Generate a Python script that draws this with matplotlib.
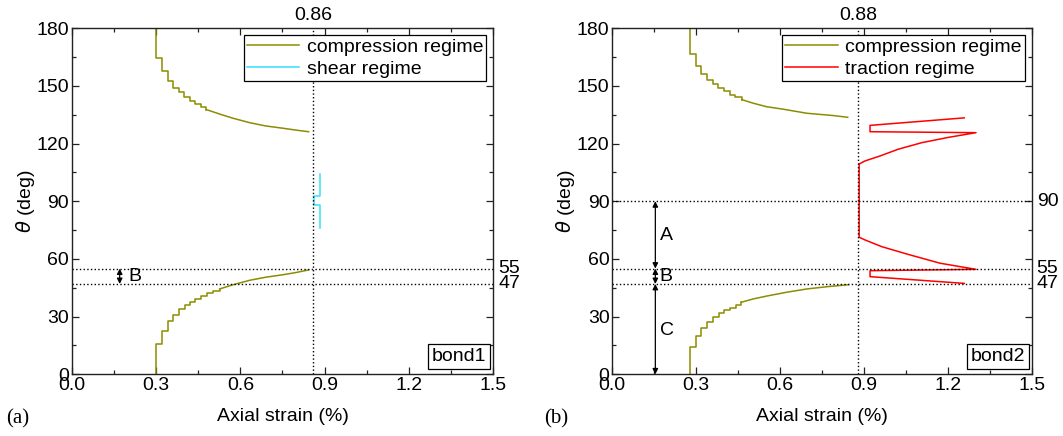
import numpy as np
import matplotlib
matplotlib.use("Agg")
import matplotlib.pyplot as plt
import matplotlib.transforms as mtransforms
from matplotlib.ticker import MultipleLocator, FormatStrFormatter

plt.rcParams['font.family'] = ['Liberation Sans', 'DejaVu Sans']
plt.rcParams['mathtext.fontset'] = 'dejavusans'

olive = '#8c8c00'
cyan = '#33e0ff'
red = '#ff0000'
fs = 14

# bond1: compression regime (strain %, theta deg); stepped start + smooth tail
b1_up_step_x = [0.301, 0.301, 0.320, 0.341, 0.360, 0.380, 0.399, 0.419, 0.440, 0.460, 0.479]
b1_up_step_t = [180.0, 164.4, 157.8, 152.8, 149.1, 146.7, 144.1, 142.2, 140.6, 138.9, 137.7]
b1_up_tail_x = [0.479, 0.530, 0.574, 0.633, 0.690, 0.752, 0.800, 0.843]
b1_up_tail_t = [137.7, 135.2, 133.2, 130.9, 129.2, 128.0, 127.0, 126.2]
b1_lo_step_x = [0.301, 0.301, 0.320, 0.341, 0.360, 0.381, 0.401, 0.420, 0.440, 0.461,
                0.481, 0.503, 0.526]
b1_lo_step_t = [0.0, 15.9, 22.5, 27.6, 31.0, 33.8, 36.1, 37.8, 39.3, 40.7,
                42.1, 43.2, 44.4]
b1_lo_tail_x = [0.526, 0.574, 0.633, 0.690, 0.752, 0.800, 0.843]
b1_lo_tail_t = [44.4, 46.6, 48.9, 50.5, 51.8, 53.0, 54.3]
# bond1: shear regime
b1_sh_x = [0.882, 0.882, 0.864, 0.864, 0.882, 0.882]
b1_sh_t = [104.0, 93.0, 93.0, 88.0, 88.0, 76.0]

# bond2: compression regime
b2_up_step_x = [0.278, 0.278, 0.299, 0.318, 0.340, 0.359, 0.379, 0.400, 0.421, 0.440, 0.463]
b2_up_step_t = [180.0, 166.5, 160.4, 156.2, 153.1, 150.9, 148.8, 147.2, 145.5, 144.1, 142.9]
b2_up_tail_x = [0.463, 0.505, 0.552, 0.612, 0.696, 0.791, 0.842]
b2_up_tail_t = [142.9, 141.0, 139.2, 137.9, 135.8, 134.6, 133.7]
b2_lo_step_x = [0.278, 0.278, 0.299, 0.319, 0.339, 0.361, 0.380, 0.400, 0.421, 0.441, 0.462]
b2_lo_step_t = [0.0, 14.0, 19.9, 24.1, 27.2, 29.7, 31.7, 33.3, 34.7, 36.2, 37.5]
b2_lo_tail_x = [0.462, 0.504, 0.552, 0.624, 0.696, 0.770, 0.845]
b2_lo_tail_t = [37.5, 39.2, 40.7, 42.7, 44.4, 45.6, 46.6]
# bond2: traction regime
b2_tr_x = [1.259, 0.922, 0.922, 1.301, 1.200, 1.107, 1.023, 0.958, 0.904, 0.883, 0.883,
           0.904, 0.964, 1.053, 1.172, 1.301, 0.922, 0.922, 1.259]
b2_tr_t = [133.4, 129.5, 126.2, 125.7, 123.2, 120.5, 117.1, 113.6, 111.0, 109.4, 71.3,
           69.9, 66.4, 62.6, 57.8, 54.6, 53.9, 50.8, 47.3]

b1_peak = 0.86
b2_peak = 0.88
b1_levels = [55, 47]
b2_levels = [90, 55, 47]

fig = plt.figure(figsize=(10.63, 4.36), dpi=100)
ax1 = fig.add_axes([0.0677, 0.1415, 0.3961, 0.7936])
ax2 = fig.add_axes([0.576, 0.1415, 0.3945, 0.7936])


def style_axes(ax):
    ax.set_xlim(0, 1.5)
    ax.set_ylim(0, 180)
    ax.xaxis.set_major_locator(MultipleLocator(0.3))
    ax.xaxis.set_minor_locator(MultipleLocator(0.15))
    ax.yaxis.set_major_locator(MultipleLocator(30))
    ax.yaxis.set_minor_locator(MultipleLocator(15))
    ax.xaxis.set_major_formatter(FormatStrFormatter('%.1f'))
    ax.tick_params(which='both', direction='in', top=True, right=True,
                   labelsize=fs, width=0.9, colors='#222222', labelcolor='black')
    ax.tick_params(which='major', length=5, pad=2)
    ax.tick_params(which='minor', length=3)
    for s in ax.spines.values():
        s.set_linewidth(1.0)
        s.set_color('#222222')
    ax.set_xlabel('Axial strain (%)', fontsize=fs, labelpad=10)
    ax.set_ylabel(r'$\theta$ (deg)', fontsize=fs, labelpad=0)


def draw_branch(ax, sx, st, tx, tt, **kw):
    ax.plot(sx, st, drawstyle='steps-post', **kw)
    ax.plot(tx, tt, color=kw['color'], lw=kw['lw'])


for ax in (ax1, ax2):
    style_axes(ax)

# bond1
draw_branch(ax1, b1_up_step_x, b1_up_step_t, b1_up_tail_x, b1_up_tail_t,
            color=olive, lw=1.1, label='compression regime')
draw_branch(ax1, b1_lo_step_x, b1_lo_step_t, b1_lo_tail_x, b1_lo_tail_t,
            color=olive, lw=1.1)
ax1.plot(b1_sh_x, b1_sh_t, color=cyan, lw=1.1, label='shear regime')
ax1.axvline(b1_peak, color='black', ls=':', lw=1)
for lv in b1_levels:
    ax1.axhline(lv, color='black', ls=':', lw=1)

# bond2
draw_branch(ax2, b2_up_step_x, b2_up_step_t, b2_up_tail_x, b2_up_tail_t,
            color=olive, lw=1.1, label='compression regime')
draw_branch(ax2, b2_lo_step_x, b2_lo_step_t, b2_lo_tail_x, b2_lo_tail_t,
            color=olive, lw=1.1)
ax2.plot(b2_tr_x, b2_tr_t, color=red, lw=1.1, label='traction regime')
ax2.axvline(b2_peak, color='black', ls=':', lw=1)
for lv in b2_levels:
    ax2.axhline(lv, color='black', ls=':', lw=1)

for ax, peak, levels, tag in ((ax1, b1_peak, b1_levels, 'bond1'),
                              (ax2, b2_peak, b2_levels, 'bond2')):
    trx = mtransforms.blended_transform_factory(ax.transData, ax.transAxes)
    ax.text(peak, 1.012, '%.2f' % peak, transform=trx, ha='center', va='bottom',
            fontsize=fs)
    tyr = mtransforms.blended_transform_factory(ax.transAxes, ax.transData)
    for lv in levels:
        ax.text(1.012, lv, str(lv), transform=tyr, ha='left', va='center',
                fontsize=fs)
    ax.text(0.984, 0.028, tag, transform=ax.transAxes, ha='right', va='bottom',
            fontsize=fs,
            bbox=dict(boxstyle='square,pad=0.2', fc='white', ec='black', lw=0.9))
    leg = ax.legend(loc='upper right', fontsize=fs, fancybox=False,
                    edgecolor='black', framealpha=1, handlelength=2.7,
                    borderpad=0.15, labelspacing=0.25, handletextpad=0.4,
                    borderaxespad=0.35)
    leg.get_frame().set_linewidth(0.9)

arrow = dict(arrowstyle='<|-|>', color='black', lw=0.9, shrinkA=0, shrinkB=0,
             mutation_scale=8)

# B interval on bond1
ax1.annotate('', xy=(0.17, 55), xytext=(0.17, 47), arrowprops=arrow)
ax1.text(0.2, 51, 'B', ha='left', va='center', fontsize=fs)

# A, B, C intervals on bond2
ax2.annotate('', xy=(0.154, 90), xytext=(0.154, 55), arrowprops=arrow)
ax2.annotate('', xy=(0.154, 55), xytext=(0.154, 47), arrowprops=arrow)
ax2.annotate('', xy=(0.154, 47), xytext=(0.154, 0), arrowprops=arrow)
ax2.text(0.17, 72, 'A', ha='left', va='center', fontsize=fs)
ax2.text(0.17, 51, 'B', ha='left', va='center', fontsize=fs)
ax2.text(0.17, 23, 'C', ha='left', va='center', fontsize=fs)

fig.text(0.006, 0.018, '(a)', family=['Liberation Serif', 'DejaVu Serif'],
         fontsize=15, ha='left', va='bottom')
fig.text(0.512, 0.018, '(b)', family=['Liberation Serif', 'DejaVu Serif'],
         fontsize=15, ha='left', va='bottom')

fig.savefig('out.png', dpi=100)
